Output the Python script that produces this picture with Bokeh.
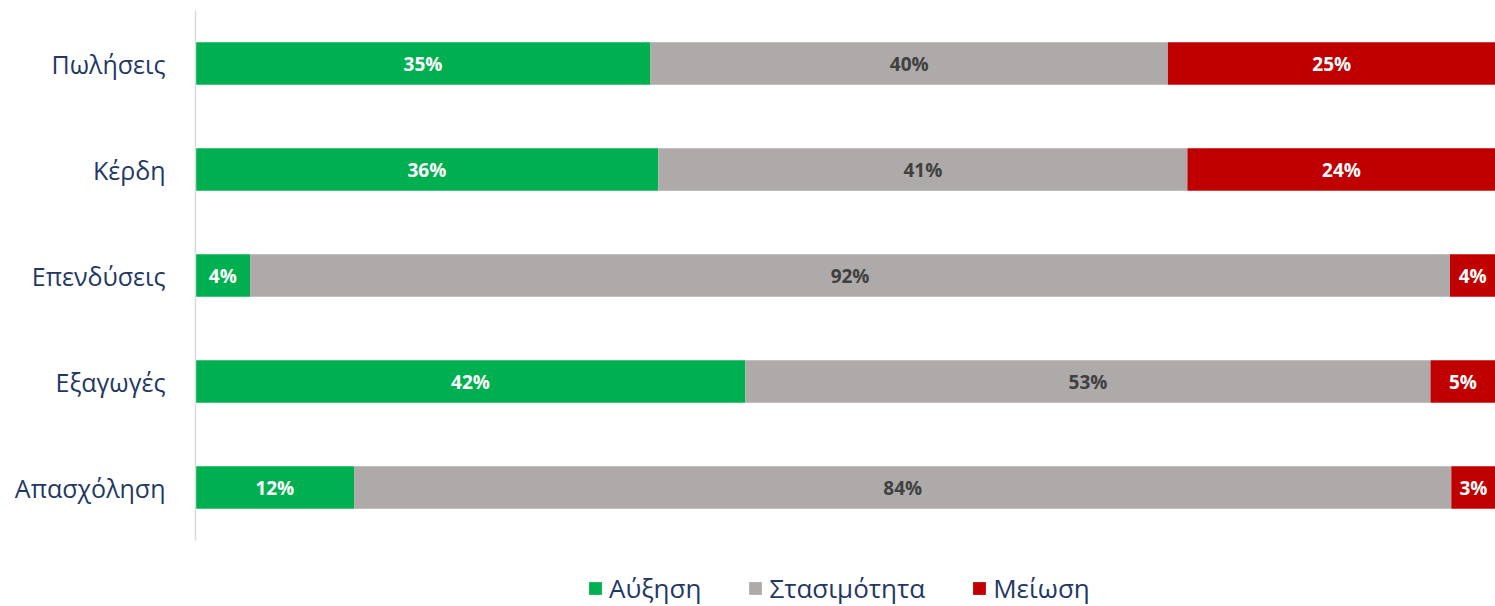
from bokeh.plotting import figure
from bokeh.models import ColumnDataSource, Range1d, Legend, LegendItem, FixedTicker
from bokeh.embed import file_html
from bokeh.resources import INLINE
from bokeh.core.properties import value

categories = ["Πωλήσεις", "Κέρδη", "Επενδύσεις", "Εξαγωγές", "Απασχόληση"]
increase = [35.0, 35.6, 4.2, 42.3, 12.2]
stable = [39.8, 40.7, 92.3, 52.7, 84.4]
decrease = [25.2, 23.7, 3.5, 5.0, 3.4]
series_names = ["Αύξηση", "Στασιμότητα", "Μείωση"]
colors = ["#00B050", "#AEAAAA", "#C00000"]
label_colors = ["#FFFFFF", "#404040", "#FFFFFF"]

FONT = "Open Sans"
NAVY = "#1F3864"

series = [increase, stable, decrease]
n = len(categories)
ypos = [n - 1 - k for k in range(n)]  # first category at the top

BAND_PX = 106          # pixel height of one category band
EXTRA_PX = 66          # room below the bars for the legend
p = figure(frame_width=1300, frame_height=BAND_PX * n + EXTRA_PX,
           output_backend="svg", toolbar_location=None,
           y_range=Range1d(-0.5 - EXTRA_PX / BAND_PX, n - 0.5),
           x_range=Range1d(0, 100),
           min_border_left=195, min_border_right=0, min_border_top=10, min_border_bottom=0)

renderers = []
for i, (name, vals) in enumerate(zip(series_names, series)):
    left = [sum(s[k] for s in series[:i]) for k in range(n)]
    right = [l + v for l, v in zip(left, vals)]
    mid = [(l + r) / 2 for l, r in zip(left, right)]
    src = ColumnDataSource(dict(y=ypos, left=left, right=right, mid=mid,
                                lab=[f"{round(v)}%" for v in vals]))
    r = p.hbar(y="y", left="left", right="right", height=0.4, source=src,
               fill_color=colors[i], line_color=None)
    renderers.append(r)
    p.text(x="mid", y="y", text="lab", source=src, text_align="center",
           text_baseline="middle", text_font=value(FONT), text_font_size="19px",
           text_font_style="bold", text_color=label_colors[i])

legend = Legend(items=[LegendItem(label=nm, renderers=[r]) for nm, r in zip(series_names, renderers)],
                orientation="horizontal", location=(392, 0))
legend.border_line_color = None
legend.background_fill_alpha = 0
legend.padding = 0
legend.margin = 0
legend.spacing = 46
legend.glyph_width = 16
legend.glyph_height = 16
legend.label_standoff = 6
legend.label_text_font = FONT
legend.label_text_font_size = "26px"
legend.label_text_color = NAVY
p.add_layout(legend)

p.xaxis.visible = False
p.xgrid.visible = False
p.ygrid.visible = False
p.outline_line_color = None

p.yaxis.ticker = FixedTicker(ticks=ypos)
p.yaxis.major_label_overrides = {y: c for y, c in zip(ypos, categories)}
p.yaxis.bounds = (-0.5, n - 0.5)
p.yaxis.major_tick_line_color = None
p.yaxis.minor_tick_line_color = None
p.yaxis.axis_line_color = "#D9D9D9"
p.yaxis.axis_line_width = 1.5
p.yaxis.major_label_text_font = FONT
p.yaxis.major_label_text_font_size = "25px"
p.yaxis.major_label_text_color = NAVY
p.yaxis.major_label_standoff = 24

open("out.html", "w").write(file_html(p, INLINE))
